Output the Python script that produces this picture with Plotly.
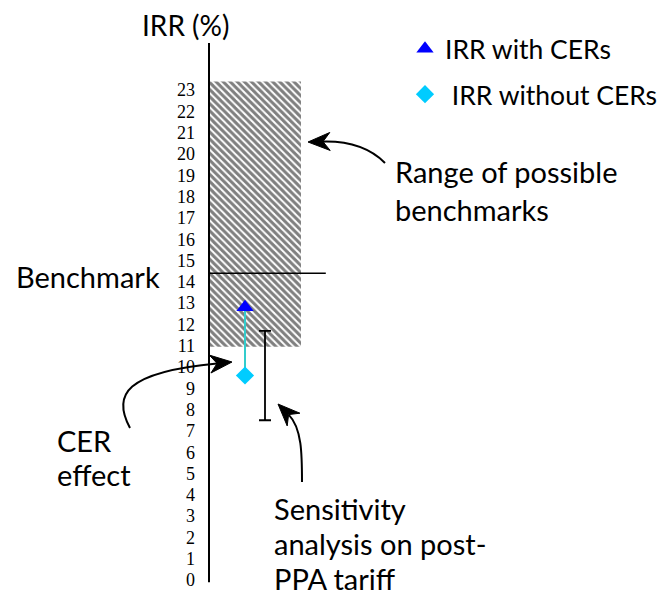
import math
import plotly.graph_objects as go

# ---- data ----
y_ticks = list(range(0, 24))
irr_with_cers = 12.8
irr_without_cers = 9.6
benchmark = 14.4
bench_range_low = 10.95
bench_range_high = 23.4
sens_low = 7.5
sens_high = 11.7
project_x = 0.9
sens_x = 1.4
bench_box_x0, bench_box_x1 = 0.0, 2.3
bench_line_x1 = 2.92

W, H = 668, 595
OFF = 8  # page body margin
FONT = "Lato"

def P(px, py):
    # screen pixel -> paper coords
    return (px - OFF) / W, 1 - (py - OFF) / H

PXY = 21.3
Y0 = 580 - OFF
r1 = Y0 / PXY
r0 = r1 - H / PXY
AX = 209 - OFF

fig = go.Figure()

# hatched range of possible benchmarks
fig.add_trace(go.Bar(
    x=[(bench_box_x0 + bench_box_x1) / 2], y=[bench_range_high - bench_range_low],
    base=[bench_range_low], width=[bench_box_x1 - bench_box_x0],
    marker=dict(color="white", line=dict(width=0),
                pattern=dict(shape="\\", fgcolor="black", bgcolor="white", size=5, solidity=0.6)),
    showlegend=False, hoverinfo="skip"))

# benchmark line
fig.add_trace(go.Scatter(x=[0, bench_line_x1], y=[benchmark, benchmark], mode="lines",
                         line=dict(color="black", width=1.5), showlegend=False, hoverinfo="skip"))

# sensitivity range (error bar)
mid = (sens_low + sens_high) / 2
fig.add_trace(go.Scatter(x=[sens_x], y=[mid], mode="markers",
                         marker=dict(size=1, color="rgba(0,0,0,0)"),
                         error_y=dict(type="data", symmetric=False,
                                      array=[sens_high - mid], arrayminus=[mid - sens_low],
                                      color="black", thickness=1.8, width=6),
                         showlegend=False, hoverinfo="skip"))

# CER effect connector
fig.add_trace(go.Scatter(x=[project_x, project_x], y=[irr_without_cers, irr_with_cers], mode="lines",
                         line=dict(color="#33CCCC", width=2), showlegend=False, hoverinfo="skip"))

fig.add_trace(go.Scatter(x=[project_x], y=[irr_with_cers], mode="markers", name="IRR with CERs",
                         marker=dict(symbol="triangle-up", size=15, color="#0000FF"),
                         legendgroup="a"))
fig.add_trace(go.Scatter(x=[project_x], y=[irr_without_cers], mode="markers", name=" IRR without CERs",
                         marker=dict(symbol="diamond", size=14, color="#00CCFF"),
                         legendgroup="b"))

# axis line
fig.add_shape(type="line", xref="x", yref="y", x0=0, x1=0, y0=-0.1, y1=(580 - 43) / PXY,
              line=dict(color="black", width=2))

def arrow(p0, c1, c2, tip, L=22, Wd=9, N=7):
    dx, dy = tip[0] - c2[0], tip[1] - c2[1]
    n = math.hypot(dx, dy)
    dx, dy = dx / n, dy / n
    end = (tip[0] - (L - N) * dx, tip[1] - (L - N) * dy)
    pts = [p0, c1, c2, end]
    pp = [P(*p) for p in pts]
    path = "M{},{} C{},{} {},{} {},{}".format(*[v for q in pp for v in q])
    fig.add_shape(type="path", xref="paper", yref="paper", path=path,
                  line=dict(color="black", width=2))
    nx, ny = -dy, dx
    back = (tip[0] - L * dx, tip[1] - L * dy)
    head = [tip, (back[0] + Wd * nx, back[1] + Wd * ny), end, (back[0] - Wd * nx, back[1] - Wd * ny)]
    hp = [P(*p) for p in head]
    path = "M{},{} L{},{} L{},{} L{},{} Z".format(*[v for q in hp for v in q])
    fig.add_shape(type="path", xref="paper", yref="paper", path=path,
                  fillcolor="black", line=dict(color="black", width=1))

arrow((385, 163), (370, 148), (350, 141), (308, 142))
arrow((302, 482), (302, 455), (302, 428), (278, 404))
arrow((130, 428), (112, 395), (125, 372), (232, 362))

def text(s, px, py, size=29, anchor="left"):
    x, y = P(px, py)
    fig.add_annotation(text=s, x=x, y=y, xref="paper", yref="paper", showarrow=False,
                       xanchor=anchor, yanchor="middle", align="left",
                       font=dict(family=FONT, size=size, color="black"))

text("IRR (%)", 186, 25, size=28, anchor="center")
text("Range of possible", 393, 171)
text("benchmarks", 393, 209)
text("Benchmark", 14, 277)
text("CER", 55, 440)
text("effect", 55, 474)
text("Sensitivity", 272, 508)
text("analysis on post-", 272, 543)
text("PPA tariff", 272, 578)

fig.update_layout(
    width=W, height=H, margin=dict(l=0, r=0, t=0, b=0),
    plot_bgcolor="white", paper_bgcolor="white",
    xaxis=dict(range=[-AX / 40, (W - AX) / 40], visible=False),
    yaxis=dict(range=[r0, r1], anchor="free", position=AX / W,
               tickmode="array", tickvals=y_ticks, ticktext=[str(v) for v in y_ticks],
               showgrid=False, zeroline=False, showline=False, ticks="",
               ticklabelstandoff=14,
               tickfont=dict(family="Liberation Serif", size=18, color="black")),
    legend=dict(x=(405 - OFF) / W, y=1 - (25 - OFF) / H, xanchor="left", yanchor="top",
                bgcolor="rgba(0,0,0,0)", borderwidth=0, tracegroupgap=8,
                font=dict(family=FONT, size=26.5, color="black")),
    showlegend=True,
)

fig.write_html("out.html")
